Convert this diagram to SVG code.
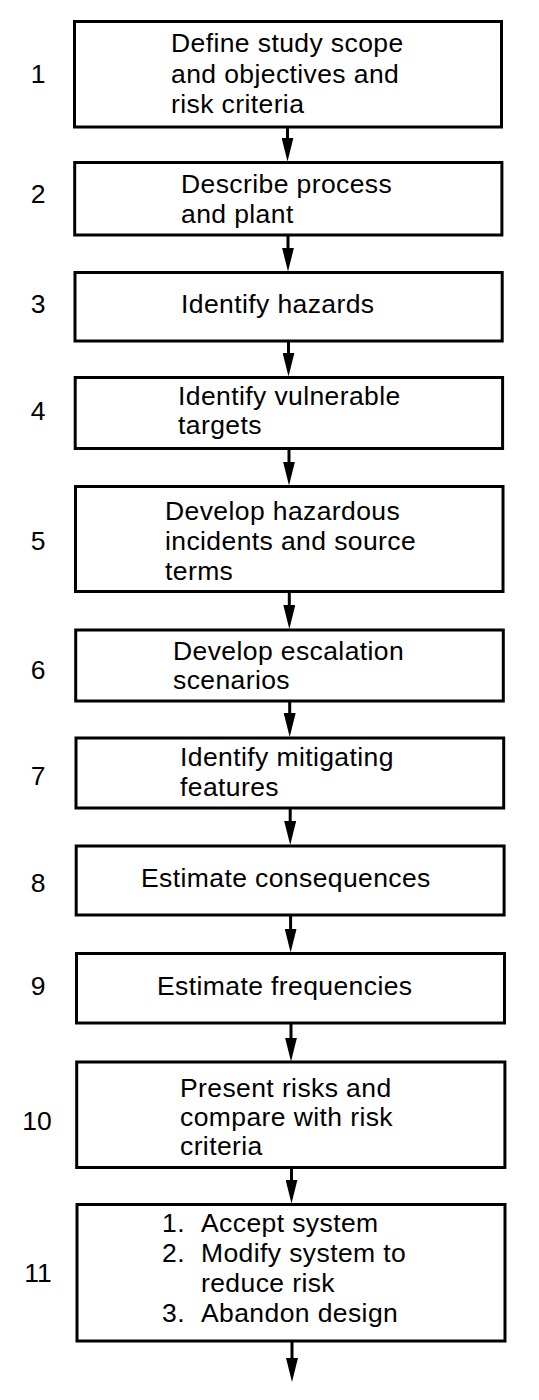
<svg xmlns="http://www.w3.org/2000/svg" width="539" height="1400" viewBox="0 0 539 1400">
  <style>
    .box { fill: #fff; stroke: #000; stroke-width: 3; }
    .lbl { font-family: "Liberation Sans", Arial, Helvetica, sans-serif; font-size: 26.5px; letter-spacing: 0.4px; fill: #000; }
    .num { font-family: "Liberation Sans", Arial, Helvetica, sans-serif; font-size: 26.5px; fill: #000; text-anchor: middle; }
    .conn { stroke: #000; stroke-width: 3; fill: none; marker-end: url(#arrow); }
  </style>
  <defs>
    <marker id="arrow" viewBox="0 0 24 12" refX="12" refY="6" markerWidth="24" markerHeight="12" markerUnits="userSpaceOnUse" orient="auto">
      <path d="M0,0 L24,6 L0,12 z" fill="#000"/>
    </marker>
  </defs>
  <rect width="539" height="1400" fill="#fff"/>

  <!-- connectors: each path stops 12px short of the tip so the shaft ends inside the head -->
  <g id="connectors">
    <path class="conn" d="M287.5,127 L287.5,149.5"/>
    <path class="conn" d="M288,235 L288,259.5"/>
    <path class="conn" d="M288.5,341 L288.5,364.5"/>
    <path class="conn" d="M289,448.5 L289,473.5"/>
    <path class="conn" d="M289.3,591.5 L289.3,617"/>
    <path class="conn" d="M289.7,701 L289.7,725"/>
    <path class="conn" d="M290.2,808 L290.2,833"/>
    <path class="conn" d="M290.6,915 L290.6,940.5"/>
    <path class="conn" d="M291,1023 L291,1049.5"/>
    <path class="conn" d="M291.5,1167.5 L291.5,1191.5"/>
    <path class="conn" d="M292,1341 L292,1370"/>
  </g>

  <g id="step1">
    <rect class="box" x="74.5" y="21.5" width="427" height="105.5"/>
    <text class="num" x="38" y="83">1</text>
    <text class="lbl" x="171" y="52">Define study scope</text>
    <text class="lbl" x="171" y="82.5">and objectives and</text>
    <text class="lbl" x="171" y="113">risk criteria</text>
  </g>
  <g id="step2">
    <rect class="box" x="74.7" y="162.5" width="427.2" height="72.5"/>
    <text class="num" x="38" y="203">2</text>
    <text class="lbl" x="181" y="193">Describe process</text>
    <text class="lbl" x="181" y="223">and plant</text>
  </g>
  <g id="step3">
    <rect class="box" x="75" y="272.5" width="427.2" height="68.5"/>
    <text class="num" x="38" y="313">3</text>
    <text class="lbl" x="181" y="313">Identify hazards</text>
  </g>
  <g id="step4">
    <rect class="box" x="75.2" y="377.5" width="427.4" height="71"/>
    <text class="num" x="38" y="420">4</text>
    <text class="lbl" x="178" y="405">Identify vulnerable</text>
    <text class="lbl" x="178" y="434">targets</text>
  </g>
  <g id="step5">
    <rect class="box" x="75.5" y="486.5" width="427.5" height="105"/>
    <text class="num" x="38" y="550">5</text>
    <text class="lbl" x="165" y="520">Develop hazardous</text>
    <text class="lbl" x="165" y="550">incidents and source</text>
    <text class="lbl" x="165" y="580">terms</text>
  </g>
  <g id="step6">
    <rect class="box" x="75.7" y="630" width="427.6" height="71"/>
    <text class="num" x="38" y="679">6</text>
    <text class="lbl" x="173" y="660">Develop escalation</text>
    <text class="lbl" x="173" y="689">scenarios</text>
  </g>
  <g id="step7">
    <rect class="box" x="76" y="738" width="427.7" height="70"/>
    <text class="num" x="38" y="785">7</text>
    <text class="lbl" x="180" y="766">Identify mitigating</text>
    <text class="lbl" x="180" y="796">features</text>
  </g>
  <g id="step8">
    <rect class="box" x="76.2" y="846" width="427.9" height="69"/>
    <text class="num" x="38" y="892">8</text>
    <text class="lbl" x="141" y="887">Estimate consequences</text>
  </g>
  <g id="step9">
    <rect class="box" x="76.5" y="953.5" width="428" height="69.5"/>
    <text class="num" x="38" y="995">9</text>
    <text class="lbl" x="157" y="995">Estimate frequencies</text>
  </g>
  <g id="step10">
    <rect class="box" x="76.7" y="1062" width="428.2" height="105.5"/>
    <text class="num" x="37" y="1130">10</text>
    <text class="lbl" x="180" y="1097">Present risks and</text>
    <text class="lbl" x="180" y="1126">compare with risk</text>
    <text class="lbl" x="180" y="1155">criteria</text>
  </g>
  <g id="step11">
    <rect class="box" x="77" y="1204.5" width="428" height="136.5"/>
    <text class="num" x="38" y="1282">11</text>
    <text class="lbl" x="162" y="1232">1.</text>
    <text class="lbl" x="201" y="1232">Accept system</text>
    <text class="lbl" x="162" y="1262">2.</text>
    <text class="lbl" x="201" y="1262">Modify system to</text>
    <text class="lbl" x="201" y="1292">reduce risk</text>
    <text class="lbl" x="162" y="1322">3.</text>
    <text class="lbl" x="201" y="1322">Abandon design</text>
  </g>
</svg>
